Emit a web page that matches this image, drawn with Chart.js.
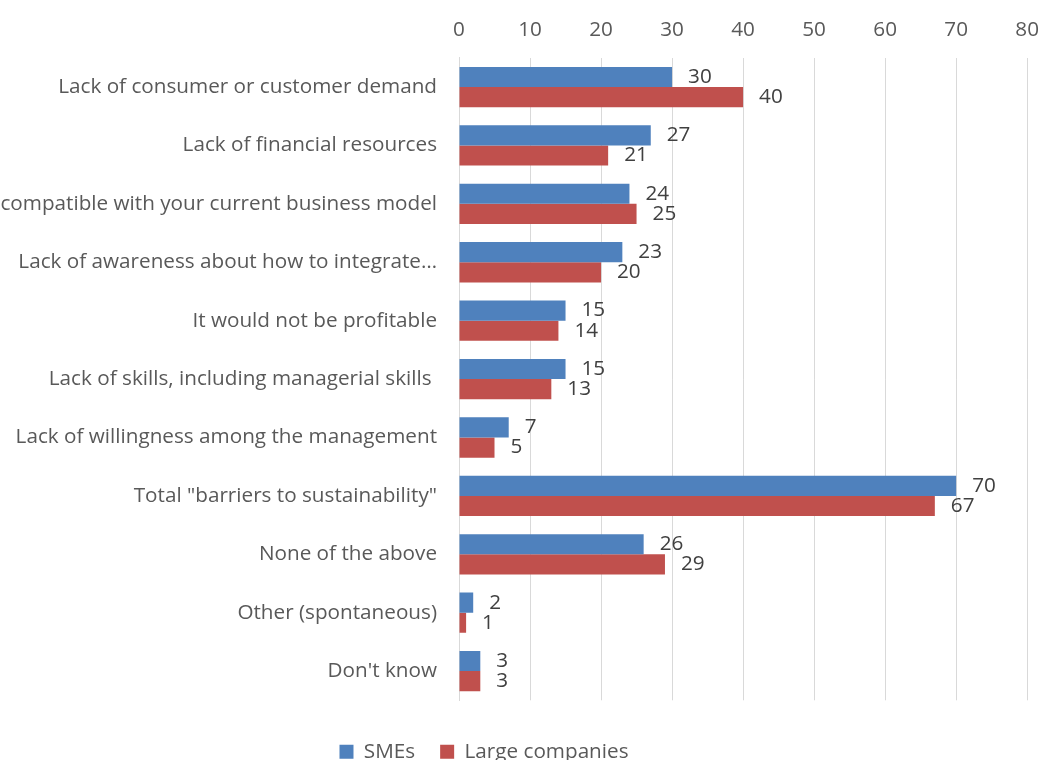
<!DOCTYPE html>
<html>
<head>
<meta charset="utf-8">
<script src="https://cdn.jsdelivr.net/npm/chart.js@4/dist/chart.umd.min.js"></script>
<style>
  html, body { margin: 0; padding: 0; background: #fff; overflow: hidden; }
  #wrap { position: relative; width: 1054px; height: 780px; }
</style>
</head>
<body>
<div id="wrap"><canvas id="chart"></canvas></div>
<script>
// Barriers to sustainability — SMEs vs large companies (%)
const categories = [
  'Lack of consumer or customer demand',
  'Lack of financial resources',
  'It is not compatible with your current business model',
  'Lack of awareness about how to integrate…',
  'It would not be profitable',
  'Lack of skills, including managerial skills ',
  'Lack of willingness among the management',
  'Total "barriers to sustainability"',
  'None of the above',
  'Other (spontaneous)',
  "Don't know",
];
const smes = [30, 27, 24, 23, 15, 15, 7, 70, 26, 2, 3];
const largeCompanies = [40, 21, 25, 20, 14, 13, 5, 67, 29, 1, 3];
const xTicks = [0, 10, 20, 30, 40, 50, 60, 70, 80];

const FONT = '"Open Sans", "DejaVu Sans", sans-serif';
const TEXT = '#595959';
const SIZE = 20.7;

const valueLabels = {
  id: 'valueLabels',
  afterLayout(chart) {
    // legend row sits left of centre
    chart.legend.left -= 43;
    chart.legend.right -= 43;
  },
  // value written just past the end of each bar
  afterDatasetsDraw(chart) {
    const { ctx } = chart;
    ctx.save();
    ctx.font = `${SIZE}px ${FONT}`;
    ctx.fillStyle = '#404040';
    ctx.textAlign = 'left';
    ctx.textBaseline = 'middle';
    chart.data.datasets.forEach((ds, di) => {
      chart.getDatasetMeta(di).data.forEach((bar, i) => {
        ctx.fillText(String(ds.data[i]), bar.x + 16, bar.y);
      });
    });
    ctx.restore();
  },
};

new Chart(document.getElementById('chart'), {
  type: 'bar',
  data: {
    labels: categories,
    datasets: [
      { label: 'SMEs', data: smes, backgroundColor: '#4F81BD', borderWidth: 0 },
      { label: 'Large companies', data: largeCompanies, backgroundColor: '#C0504D', borderWidth: 0 },
    ],
  },
  options: {
    indexAxis: 'y',
    responsive: true,
    maintainAspectRatio: false,
    animation: false,
    layout: { padding: { top: 3, right: 0, left: 0, bottom: 8 } },
    datasets: { bar: { categoryPercentage: 0.69, barPercentage: 1 } },
    scales: {
      x: {
        position: 'top',
        min: 0, max: 80,
        afterBuildTicks: (axis) => { axis.ticks = xTicks.map((v) => ({ value: v })); },
        grid: { color: '#d9d9d9', lineWidth: 1, drawTicks: false },
        border: { display: false },
        ticks: { color: TEXT, font: { family: FONT, size: SIZE }, padding: 15 },
      },
      y: {
        afterFit: (axis) => { axis.width = 459; },
        grid: { display: false, drawTicks: false },
        border: { color: '#d9d9d9', width: 1 },
        ticks: { color: TEXT, font: { family: FONT, size: SIZE }, padding: 22, autoSkip: false },
      },
    },
    plugins: {
      legend: {
        position: 'bottom',
        // blank title only adds room above the legend row
        title: { display: true, text: ' ', font: { size: 10 }, padding: { top: 2, bottom: 2 } },
        labels: { color: TEXT, font: { family: FONT, size: SIZE }, boxWidth: 14, boxHeight: 14, padding: 25 },
      },
      tooltip: { enabled: false },
    },
  },
  plugins: [valueLabels],
});
</script>
</body>
</html>
